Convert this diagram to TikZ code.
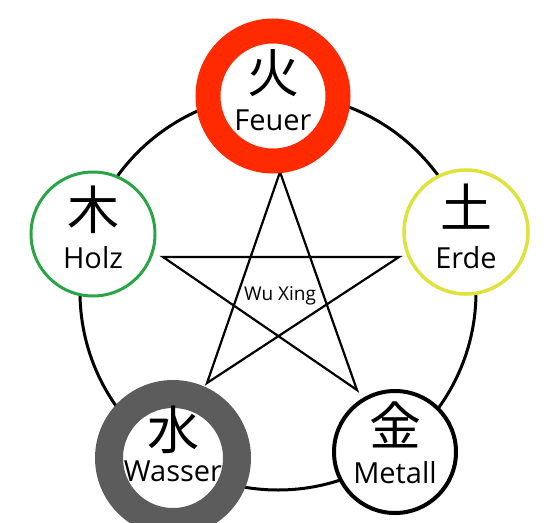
\documentclass[tikz,border=0pt]{standalone}
\usepackage{fontspec}
\setmainfont{Open Sans}
\newfontfamily\cjk{Noto Sans CJK JP}
\usepackage{tikz}
\definecolor{feuerred}{RGB}{255,42,0}
\definecolor{holzgreen}{RGB}{40,165,70}
\definecolor{erdeyellow}{RGB}{222,226,60}
\definecolor{wassergray}{RGB}{92,92,92}

\begin{document}
\begin{tikzpicture}[
  x=1pt, y=-1pt,
  elem/.style={circle, fill=white, inner sep=0pt},
  kanji/.style={inner sep=0pt, font=\cjk\fontsize{52}{52}\selectfont},
  word/.style={inner sep=0pt, font=\fontsize{29}{29}\selectfont},
  starline/.style={draw=black, line width=2.2pt, line join=miter}
]
  \useasboundingbox (0,0) rectangle (546,522);
  \node[circle, draw=black, line width=3pt, minimum size=396pt] (ring) at (278,292) {};

  % pentagram
  \coordinate (st) at (280,172);
  \coordinate (sl) at (163,257);
  \coordinate (sr) at (399,257);
  \coordinate (sbl) at (207,383);
  \coordinate (sbr) at (357,390);
  \draw[starline] (st) -- (sbl) -- (sr) -- (sl) -- (sbr) -- cycle;
  \node[font=\fontsize{19}{19}\selectfont] (wuxing) at (280,296) {Wu Xing};

  % elements
  \node[elem, draw=feuerred, line width=25pt, minimum size=130pt] (feuer) at (273,96) {};
  \node[elem, draw=holzgreen, line width=3pt, minimum size=124pt] (holz) at (93,234) {};
  \node[elem, draw=erdeyellow, line width=3.5pt, minimum size=124pt] (erde) at (466,232) {};
  \node[elem, draw=wassergray, line width=28pt, minimum size=128pt] (wasser) at (173,458) {};
  \node[elem, draw=black, line width=4pt, minimum size=122pt] (metall) at (395,452) {};

  \node[kanji] (feuer-k) at ([yshift=23pt]feuer.center) {火};
  \node[word] (feuer-w) at ([yshift=-24pt]feuer.center) {Feuer};
  \node[kanji] (holz-k) at ([yshift=24pt]holz.center) {木};
  \node[word] (holz-w) at ([yshift=-24pt]holz.center) {Holz};
  \node[kanji] (erde-k) at ([yshift=25pt]erde.center) {土};
  \node[word] (erde-w) at ([yshift=-26pt]erde.center) {Erde};
  \node[kanji] (wasser-k) at ([yshift=28pt]wasser.center) {水};
  \node[word] (wasser-w) at ([yshift=-13pt]wasser.center) {Wasser};
  \node[kanji] (metall-k) at ([yshift=27pt]metall.center) {金};
  \node[word] (metall-w) at ([yshift=-21pt]metall.center) {Metall};
\end{tikzpicture}
\end{document}
